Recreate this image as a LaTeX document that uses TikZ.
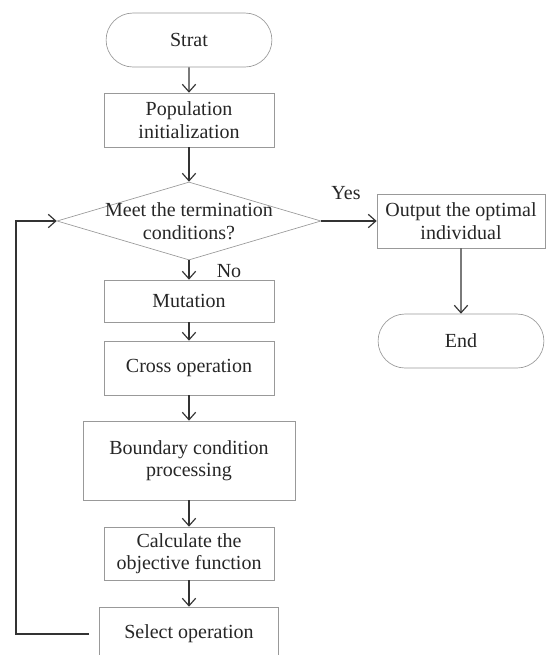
\documentclass[tikz,border=0pt]{standalone}
\usepackage{fontspec}
\setmainfont{Liberation Serif}
\usetikzlibrary{shapes.geometric,shapes.misc,arrows.meta}
\begin{document}
\begin{tikzpicture}[x=0.6pt,y=-0.6pt]
\tikzset{term/.style={rounded rectangle,draw=black!40,line width=0.4pt,minimum width=101.5pt,minimum height=32.4pt,inner sep=1pt,font=\fontsize{12}{13.5}\selectfont,text=black!85},
         proc/.style={rectangle,draw=black!40,line width=0.4pt,minimum width=102pt,inner sep=1pt,align=center,font=\fontsize{12}{13.5}\selectfont,text=black!85},
         dec/.style={diamond,draw=black!40,line width=0.4pt,minimum width=158.4pt,minimum height=46.8pt,inner sep=0pt},
         lab/.style={draw=none,fill=none,inner sep=0.8pt,align=center,font=\fontsize{12}{13.5}\selectfont,text=black!85},
         flow/.style={draw=black!80,line width=0.7pt,-{Straight Barb[length=4.5pt,width=8pt]}}}
\useasboundingbox (0,0) rectangle (547,655);
\node[term] (st) at (189,40) {Strat};
\node[proc,minimum height=32.4pt] (pop) at (189,120) {Population\\initialization};
\node[dec] (dia) at (189,221) {};
\node[lab] (diat) at (dia) {Meet the termination\\conditions?};
\node[proc,minimum height=25.2pt] (mut) at (189,301) {Mutation};
\node[proc,minimum height=32.4pt] (cro) at (189,368) {Cross operation};
\node[proc,minimum width=127.2pt,minimum height=47.4pt] (bnd) at (189,460.5) {Boundary condition\\processing};
\node[proc,minimum height=31.8pt] (obj) at (189,553.5) {Calculate the\\objective function};
\node[proc,minimum width=107.4pt,minimum height=32.4pt] (sel) at (189,634) {Select operation};
\node[proc,minimum width=100.8pt,minimum height=32.4pt] (out) at (461,221) {Output the optimal\\individual};
\node[term] (end) at (461,341) {End};
\coordinate (lx) at (16,0);
\draw[flow] (st)--(pop);
\draw[flow] (pop)--(dia);
\draw[flow] (dia)--(mut);
\draw[flow] (mut)--(cro);
\draw[flow] (cro)--(bnd);
\draw[flow] (bnd)--(obj);
\draw[flow] (obj)--(sel);
\draw[flow] (dia)--(out);
\draw[flow] (out)--(end);
\draw[flow,shorten <=6pt] (sel.west)--(sel.west -| lx) |- (dia.west);
\node[lab] at (229,271) {No};
\node[lab] at (346,193) {Yes};
\end{tikzpicture}
\end{document}
